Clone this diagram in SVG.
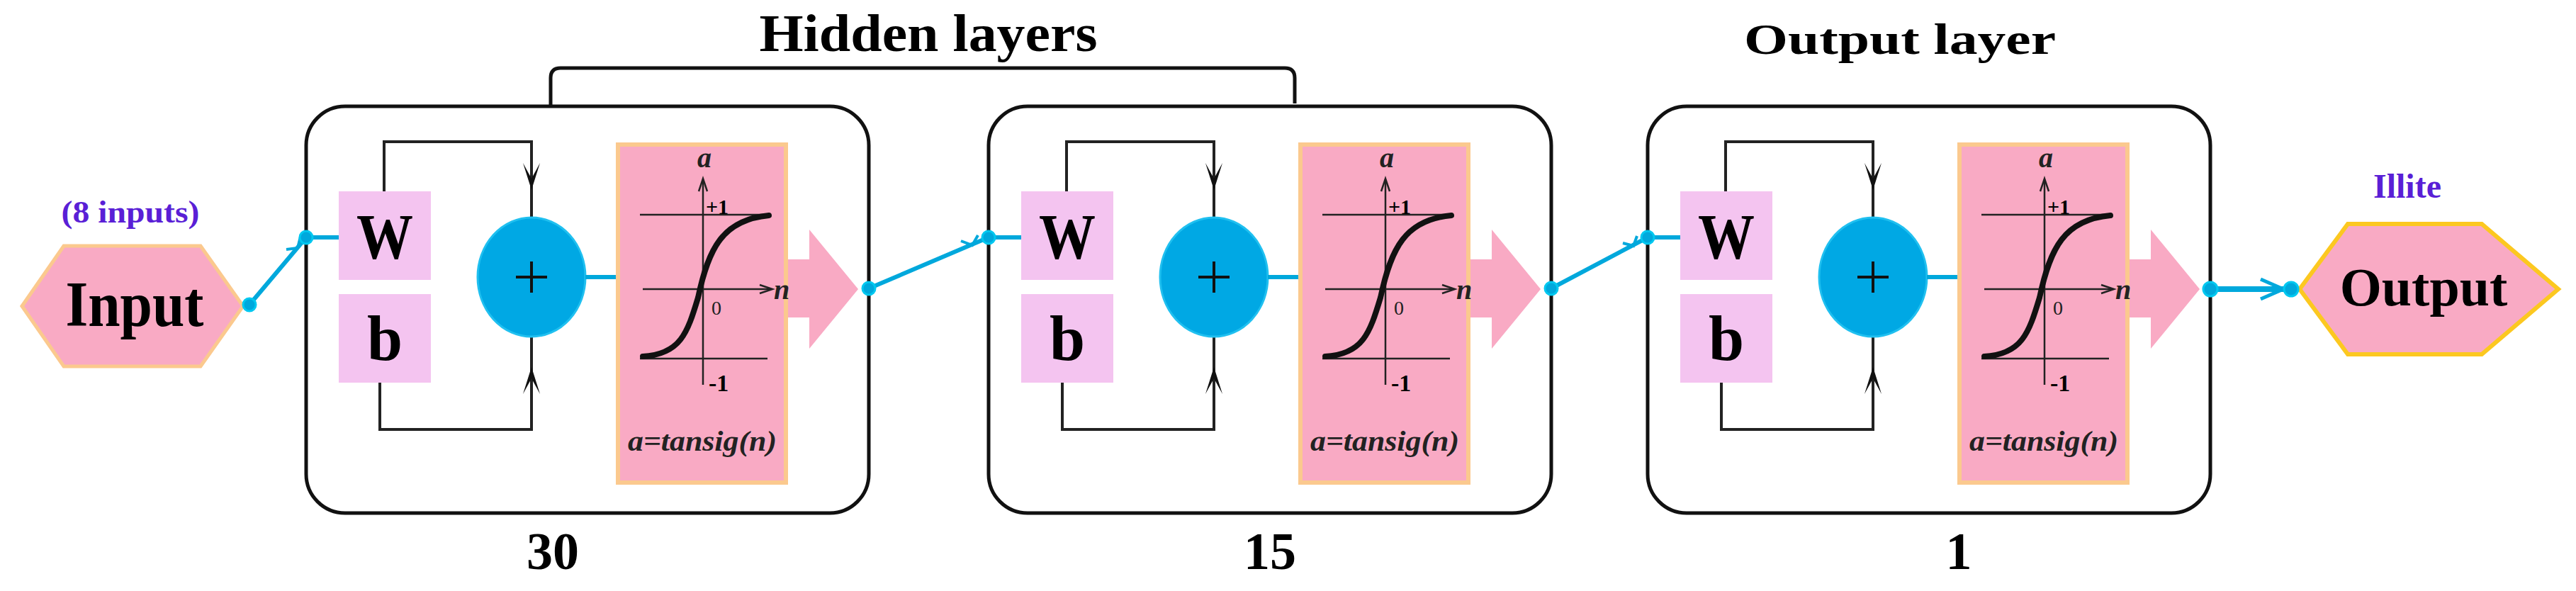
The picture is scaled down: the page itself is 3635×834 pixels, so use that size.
<svg xmlns="http://www.w3.org/2000/svg" width="3635" height="834" viewBox="0 0 3635 834">
<style>
.t{font-family:"Liberation Serif",serif;font-weight:bold;fill:#000}
.pur{fill:#5a1fd6}
.blk{fill:none;stroke:#111;stroke-width:5;stroke-linejoin:round}
.wb{fill:#f4c4f0}
.cy{fill:none;stroke:#00a8dc;stroke-width:6}
.dot{fill:#00a8dc;stroke:#00c8f0;stroke-width:3}
.ax{stroke:#222;stroke-width:2.5;fill:none}
.it{font-family:"Liberation Serif",serif;font-style:italic;font-weight:bold;fill:#222}
</style>
<defs>
<g id="blk">
<rect x="432" y="150" width="794" height="574" rx="55" class="blk"/>
<rect x="478" y="270" width="130" height="125" class="wb"/>
<rect x="478" y="415" width="130" height="125" class="wb"/>
<text x="543" y="365" class="t" font-size="90" text-anchor="middle" textLength="80" lengthAdjust="spacingAndGlyphs">W</text>
<text x="543" y="508" class="t" font-size="90" text-anchor="middle">b</text>
<polyline points="542,270 542,200 750,200 750,307" class="ax" style="stroke-width:4"/>
<polyline points="536,540 536,606 750,606 750,476" class="ax" style="stroke-width:4"/>
<path d="M738,230 L750,268 L762,230 L750,252 Z" fill="#111"/>
<path d="M738,556 L750,518 L762,556 L750,534 Z" fill="#111"/>
<ellipse cx="750" cy="391" rx="76" ry="84" fill="#00a8e4" stroke="#20c0f0" stroke-width="3"/>
<path d="M728,391 H772 M750,369 V413" stroke="#111" stroke-width="4"/>
<line x1="826" y1="391" x2="872" y2="391" class="cy"/>
<path d="M1109,366 H1142 V324 L1211,408 L1142,492 V448 H1109 Z" fill="#f9aac4"/>
<rect x="872" y="204" width="237" height="477" fill="#f9aac4" stroke="#fbc98e" stroke-width="6"/>
<line x1="992" y1="253" x2="992" y2="543" class="ax"/>
<path d="M986,270 L992,252 L998,270" class="ax"/>
<line x1="907" y1="408" x2="1088" y2="408" class="ax"/>
<path d="M1072,402 L1090,408 L1072,414" class="ax"/>
<line x1="903" y1="303" x2="1083" y2="303" class="ax"/>
<line x1="903" y1="506" x2="1083" y2="506" class="ax"/>
<path d="M907,503 C960,500 970,470 985,420 C1000,350 1020,310 1085,304" fill="none" stroke="#111" stroke-width="8" stroke-linecap="round"/>
<text x="984" y="236" class="it" font-size="40">a</text>
<text x="996" y="302" class="t" font-size="30" fill="#222">+1</text>
<text x="1004" y="444" font-family="Liberation Serif,serif" font-size="28" fill="#222">0</text>
<text x="1000" y="552" class="t" font-size="34" fill="#222">-1</text>
<text x="1092" y="422" class="it" font-size="40">n</text>
<text x="991" y="636" class="it" font-size="40" text-anchor="middle" textLength="210" lengthAdjust="spacingAndGlyphs">a=tansig(n)</text>
</g>
</defs>
<g id="input">
<polygon points="31,432 90,347 283,347 343,432 283,517 90,517" fill="#f9aac4" stroke="#fbc98e" stroke-width="5"/>
<text x="190" y="460" class="t" font-size="90" text-anchor="middle" textLength="195" lengthAdjust="spacingAndGlyphs">Input</text>
<text x="184" y="314" class="t pur" font-size="44" text-anchor="middle" textLength="195" lengthAdjust="spacingAndGlyphs">(8 inputs)</text>
</g>
<g id="hidden1"><use href="#blk"/><text x="780" y="803" class="t" font-size="74" text-anchor="middle">30</text></g>
<g id="hidden2" transform="translate(963,0)"><use href="#blk"/><text x="829" y="803" class="t" font-size="74" text-anchor="middle">15</text></g>
<g id="outlayer" transform="translate(1893,0)"><use href="#blk"/><text x="871" y="803" class="t" font-size="74" text-anchor="middle">1</text></g>
<g id="labels">
<path d="M777,149 V110 Q777,96 791,96 H1813 Q1827,96 1827,110 V146" class="blk"/>
<text x="1310" y="72" class="t" font-size="74" text-anchor="middle" textLength="477" lengthAdjust="spacingAndGlyphs">Hidden layers</text>
<text x="2681" y="76" class="t" font-size="62" text-anchor="middle" textLength="440" lengthAdjust="spacingAndGlyphs">Output layer</text>
</g>
<g id="output">
<polygon points="3245,408 3313,316 3502,316 3610,408 3502,500 3313,500" fill="#f9aac4" stroke="#fcc820" stroke-width="6"/>
<text x="3420" y="431" class="t" font-size="76" text-anchor="middle">Output</text>
<text x="3397" y="279" class="t pur" font-size="48" text-anchor="middle">Illite</text>
</g>
<g id="connectors">
<polyline points="352,430 432,335 478,335" class="cy"/>
<path d="M404,352 L420,350 L424,334" class="cy" style="stroke-width:4"/>
<circle cx="352" cy="430" r="9" class="dot"/><circle cx="432" cy="335" r="9" class="dot"/>
<polyline points="1226,407 1395,335 1441,335" class="cy"/>
<path d="M1356,340 L1372,346 L1380,332" class="cy" style="stroke-width:4"/>
<circle cx="1226" cy="407" r="9" class="dot"/><circle cx="1395" cy="335" r="9" class="dot"/>
<polyline points="2189,407 2325,335 2371,335" class="cy"/>
<path d="M2290,343 L2305,347 L2310,333" class="cy" style="stroke-width:4"/>
<circle cx="2189" cy="407" r="9" class="dot"/><circle cx="2325" cy="335" r="9" class="dot"/>
<line x1="3119" y1="408" x2="3230" y2="408" class="cy" style="stroke-width:8"/>
<path d="M3190,394 L3222,408 L3190,422" class="cy" style="stroke-width:5"/>
<circle cx="3119" cy="408" r="10" class="dot"/><circle cx="3233" cy="408" r="10" class="dot"/>
</g>
</svg>
